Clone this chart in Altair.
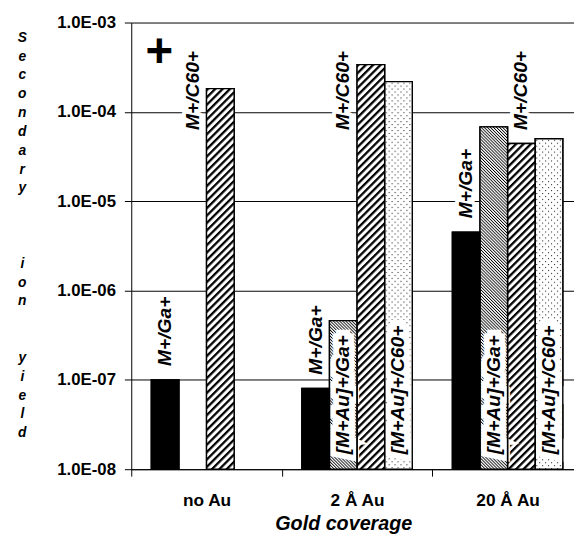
import altair as alt
import pandas as pd
from urllib.parse import quote

# ---------------- data ----------------
groups = ["no Au", "2 Å Au", "20 Å Au"]
series = ["M+/Ga+", "[M+Au]+/Ga+", "M+/C60+", "[M+Au]+/C60+"]
yield_m_ga = [1.0e-7, 8.0e-8, 4.5e-6]
yield_mau_ga = [None, 4.6e-7, 6.8e-5]
yield_m_c60 = [1.82e-4, 3.38e-4, 4.43e-5]
yield_mau_c60 = [None, 2.18e-4, 5.0e-5]
y_ticks = [1e-8, 1e-7, 1e-6, 1e-5, 1e-4, 1e-3]
y_title_words = ["Secondary", "ion", "yield"]
x_title = "Gold coverage"
panel_mark = "+"

# bar labels: group, slot (series column it sits over), text
label_group = ["no Au", "2 Å Au", "20 Å Au", "no Au", "2 Å Au", "20 Å Au",
               "2 Å Au", "20 Å Au", "2 Å Au", "20 Å Au"]
label_slot = ["M+/Ga+", "M+/Ga+", "M+/Ga+", "[M+Au]+/Ga+", "[M+Au]+/Ga+", "M+/C60+",
              "[M+Au]+/Ga+", "[M+Au]+/Ga+", "[M+Au]+/C60+", "[M+Au]+/C60+"]
label_text = ["M+/Ga+", "M+/Ga+", "M+/Ga+", "M+/C60+", "M+/C60+", "M+/C60+",
              "[M+Au]+/Ga+", "[M+Au]+/Ga+", "[M+Au]+/C60+", "[M+Au]+/C60+"]

# ---------------- tables ----------------
rows = []
for g, a, b, c, d in zip(groups, yield_m_ga, yield_mau_ga, yield_m_c60, yield_mau_c60):
    for s, v in zip(series, [a, b, c, d]):
        if v is not None:
            rows.append({"group": g, "series": s, "value": v})
bars = pd.DataFrame(rows)


def svg_uri(defs):
    svg = ("<svg xmlns='http://www.w3.org/2000/svg'><defs>" + defs +
           "</defs><rect width='100%' height='100%' fill='url(#p)'/></svg>")
    return "data:image/svg+xml," + quote(svg)


hatch_thick = svg_uri(
    "<pattern id='p' width='5.3' height='5.3' patternUnits='userSpaceOnUse' "
    "patternTransform='rotate(45)'><rect width='5.3' height='5.3' fill='white'/>"
    "<rect width='2.3' height='5.3' fill='black'/></pattern>")
hatch_fine = svg_uri(
    "<pattern id='p' width='2.2' height='2.2' patternUnits='userSpaceOnUse' "
    "patternTransform='rotate(-45)'><rect width='2.2' height='2.2' fill='white'/>"
    "<rect width='0.85' height='2.2' fill='black'/></pattern>")
dots = svg_uri(
    "<pattern id='p' width='6' height='6' patternUnits='userSpaceOnUse'>"
    "<rect width='6' height='6' fill='white'/>"
    "<rect x='1' y='1' width='1.1' height='1.1' fill='#333'/>"
    "<rect x='4' y='4' width='1.1' height='1.1' fill='#333'/></pattern>")
pattern_of = {"[M+Au]+/Ga+": hatch_fine, "M+/C60+": hatch_thick, "[M+Au]+/C60+": dots}
bars["url"] = bars["series"].map(pattern_of)

ga_top = dict(zip(groups, yield_m_ga))
anchors, inside = [], []
for g, s, t in zip(label_group, label_slot, label_text):
    if t == "M+/Ga+":
        anchors.append(ga_top[g] * 1.43)       # just above the black bar
        inside.append(False)
    elif t == "M+/C60+":
        anchors.append(6.27e-5)                # common label height
        inside.append(False)
    else:
        anchors.append(1.47e-8)                # inside the bar, from the bottom
        inside.append(True)
labels = pd.DataFrame({"group": label_group, "series": label_slot,
                       "label": label_text, "value": anchors, "inside": inside})

plus_df = pd.DataFrame({"group": ["no Au"], "value": [4.55e-4], "t": [panel_mark]})

# y title stacked letter by letter (blank braille cell keeps the empty lines)
gaps = [3, 2]
y_title_lines = []
for i, w in enumerate(y_title_words):
    y_title_lines += list(w)
    if i < len(gaps):
        y_title_lines += ["\u2800"] * gaps[i]

F = "Liberation Sans"

# ---------------- encodings ----------------
x_enc = alt.X(
    "group:N", sort=groups,
    scale=alt.Scale(domain=groups, range=[0, 458], paddingInner=0, paddingOuter=0),
    axis=alt.Axis(labelAngle=0, tickBand="extent", ticks=True, tickSize=7,
                  tickColor="black", tickWidth=1, domainColor="black", domainWidth=1,
                  grid=False, labelFont=F, labelFontSize=17.5, labelFontWeight="bold",
                  labelColor="black", labelBaseline="alphabetic", labelPadding=30,
                  title=x_title, titleFont=F, titleFontSize=20, titleFontWeight="bold",
                  titleFontStyle="italic", titleColor="black", titleBaseline="alphabetic",
                  titleAlign="center", titleX=215, titleY=61),
)
xo_enc = alt.XOffset(
    "series:N", sort=series,
    scale=alt.Scale(domain=series, paddingInner=0, paddingOuter=0.727),
)
y_enc = alt.Y(
    "value:Q",
    scale=alt.Scale(type="log", domain=[1e-8, 1e-3], nice=False),
    axis=alt.Axis(values=y_ticks,
                  labelExpr="'1.0E-0' + format(-log(datum.value)/LN10, '.0f')",
                  grid=True, gridColor="black", gridWidth=1, gridOpacity=1,
                  tickColor="black", tickSize=7, tickWidth=1,
                  domainColor="black", domainWidth=1,
                  labelFont=F, labelFontSize=17, labelFontWeight="bold",
                  labelColor="black", labelPadding=9, labelFlush=False,
                  labelOverlap=False,
                  title=y_title_lines, titleAngle=0, titleAlign="center",
                  titleBaseline="top", titleX=-111, titleY=8, titleLineHeight=19.1,
                  titleFont=F, titleFontSize=14, titleFontWeight="bold",
                  titleFontStyle="italic", titleColor="black"),
)

base = alt.Chart(bars).encode(x=x_enc, xOffset=xo_enc, y=y_enc, y2=alt.datum(1e-8))

fill_bars = base.mark_bar(stroke="black", strokeWidth=1.4).encode(
    fill=alt.Fill("series:N", scale=alt.Scale(domain=series,
                  range=["black", "white", "white", "white"]), legend=None)
)
pattern_bars = base.transform_filter(alt.datum.series != "M+/Ga+").mark_image(
    aspect=False).encode(url="url:N")
outline_bars = base.mark_bar(fillOpacity=0, stroke="black", strokeWidth=1.4)

text_style = dict(angle=270, align="left", baseline="middle", font=F, fontSize=19.5,
                  fontWeight="bold", fontStyle="italic")
halo_out = alt.Chart(labels).transform_filter("!datum.inside").mark_text(
    fill="white", stroke="white", strokeWidth=8, strokeJoin="round", **text_style
).encode(x=x_enc, xOffset=xo_enc, y=y_enc, text="label:N")
halo_in = alt.Chart(labels).transform_filter("datum.inside").mark_text(
    fill="white", stroke="white", strokeWidth=12, strokeJoin="miter", **text_style
).encode(x=x_enc, xOffset=xo_enc, y=y_enc, text="label:N")
label_text_layer = alt.Chart(labels).mark_text(fill="black", **text_style).encode(
    x=x_enc, xOffset=xo_enc, y=y_enc, text="label:N")

plus = alt.Chart(plus_df).mark_text(font=F, fontSize=48, fontWeight="bold",
                                    fill="black", align="center", baseline="middle",
                                    dx=-48).encode(x=x_enc, y=y_enc, text="t:N")

chart = alt.layer(fill_bars, pattern_bars, halo_out, halo_in, outline_bars,
                  label_text_layer, plus).properties(
    width=449, height=453,
    autosize=alt.AutoSizeParams(type="none"),
    padding={"left": 125, "top": 11, "right": 0, "bottom": 65},
).configure_view(strokeWidth=0)

chart.save("out.html", embed_options={"renderer": "svg", "actions": False})
